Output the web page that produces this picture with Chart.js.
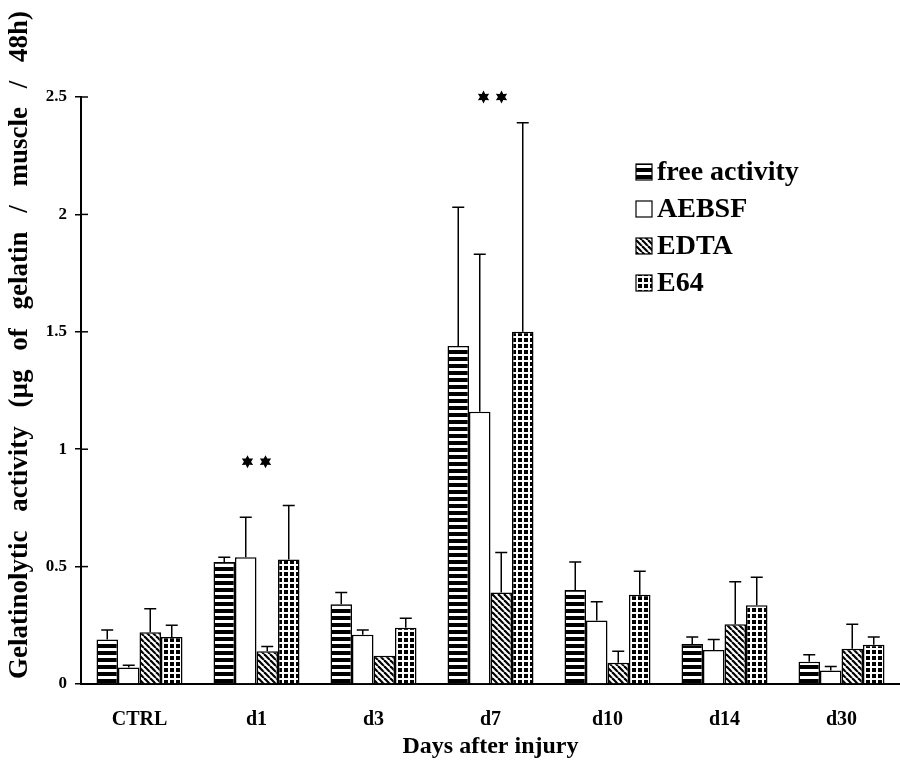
<!DOCTYPE html>
<html>
<head>
<meta charset="utf-8">
<script src="https://cdn.jsdelivr.net/npm/chart.js@4/dist/chart.umd.min.js"></script>
<style>
  html, body { margin: 0; padding: 0; background: #fff; }
  #wrap { width: 900px; height: 765px; }
</style>
</head>
<body>
<div id="wrap"><canvas id="gelChart" width="900" height="765"></canvas></div>
<script>
// values (mean and SD per day)
const days = ['CTRL', 'd1', 'd3', 'd7', 'd10', 'd14', 'd30'];
const freeActivity = [0.19, 0.52, 0.34, 1.44, 0.40, 0.17, 0.095];
const aebsf        = [0.07, 0.54, 0.21, 1.16, 0.27, 0.145, 0.057];
const edta         = [0.22, 0.14, 0.12, 0.39, 0.09, 0.255, 0.15];
const e64          = [0.20, 0.53, 0.24, 1.50, 0.38, 0.335, 0.167];

const freeSd  = [0.04, 0.02, 0.05, 0.59, 0.12, 0.03, 0.03];
const aebsfSd = [0.01, 0.17, 0.02, 0.67, 0.08, 0.045, 0.017];
const edtaSd  = [0.10, 0.02, 0.00, 0.17, 0.05, 0.18, 0.105];
const e64Sd   = [0.05, 0.23, 0.04, 0.89, 0.10, 0.12, 0.033];

const starDays   = ['d1', 'd7'];
const starValues = [0.947, 2.5];

const serif = '"Liberation Serif", "Times New Roman", serif';

function makePattern(w, h, draw) {
    let c = document.createElement('canvas');
    c.width = w;
    c.height = h;
    let g = c.getContext('2d');
    draw(g, w, h);
    return g.createPattern(c, 'repeat');
}

let hStripes = makePattern(4, 7, function (g, w, h) {
    g.fillStyle = '#fff'; g.fillRect(0, 0, w, h);
    g.fillStyle = '#000'; g.fillRect(0, 0, w, 4);
});
let diagStripes = makePattern(6, 6, function (g, w, h) {
    g.fillStyle = '#fff'; g.fillRect(0, 0, w, h);
    g.strokeStyle = '#000'; g.lineWidth = 2.2;
    for (let k = -6; k <= 6; k += 6) {
        g.beginPath(); g.moveTo(k, 0); g.lineTo(k + 6, 6); g.stroke();
    }
});
let grid = makePattern(6, 6, function (g, w, h) {
    g.fillStyle = '#000'; g.fillRect(0, 0, w, h);
    g.fillStyle = '#fff'; g.fillRect(0, 0, w, 2); g.fillRect(0, 0, 2, h);
});

function star(ctx, cx, cy, r) {
    ctx.beginPath();
    for (let k = 0; k < 12; k++) {
        let a = -Math.PI / 2 + k * Math.PI / 6;
        let rr = k % 2 ? r * 0.55 : r;
        ctx.lineTo(cx + rr * Math.cos(a), cy + rr * Math.sin(a));
    }
    ctx.closePath();
    ctx.fill();
}

// words spread out so the rotated title covers the given length
function spreadText(ctx, text, cx, cy, length) {
    let words = text.split(' ');
    let widths = words.map(w => ctx.measureText(w).width);
    let total = widths.reduce((a, b) => a + b, 0);
    let gap = (length - total) / (words.length - 1);
    let pos = cx - length / 2;
    ctx.textAlign = 'left';
    words.forEach(function (w, i) {
        ctx.fillText(w, pos, cy);
        pos += widths[i] + gap;
    });
}

const extras = {
    id: 'extras',
    afterDatasetsDraw(chart) {
        let ctx = chart.ctx;
        let y = chart.scales.y;
        ctx.save();
        ctx.strokeStyle = '#000';
        ctx.lineWidth = 1.5;
        chart.data.datasets.forEach(function (ds, di) {
            chart.getDatasetMeta(di).data.forEach(function (bar, i) {
                let sd = ds.sd[i];
                if (!sd) return;
                let top = y.getPixelForValue(ds.data[i] + sd);
                ctx.beginPath();
                ctx.moveTo(bar.x, bar.y);
                ctx.lineTo(bar.x, top);
                ctx.moveTo(bar.x - 6, top);
                ctx.lineTo(bar.x + 6, top);
                ctx.stroke();
            });
        });
        ctx.restore();
    },
    afterDraw(chart) {
        let ctx = chart.ctx;
        let x = chart.scales.x;
        let y = chart.scales.y;
        let area = chart.chartArea;
        ctx.save();

        // inner half of the y ticks
        ctx.strokeStyle = '#000';
        ctx.lineWidth = 1.5;
        y.ticks.forEach(function (t) {
            let py = y.getPixelForValue(t.value);
            ctx.beginPath(); ctx.moveTo(area.left, py); ctx.lineTo(area.left + 7, py); ctx.stroke();
        });

        // significance stars
        ctx.fillStyle = '#000';
        starDays.forEach(function (d, i) {
            let px = x.getPixelForValue(days.indexOf(d)) + (d === 'd7' ? 2 : 0);
            let py = y.getPixelForValue(starValues[i]);
            star(ctx, px - 9, py, 6.5);
            star(ctx, px + 9, py, 6.5);
        });

        // legend
        ctx.font = 'bold 28px ' + serif;
        ctx.textAlign = 'left';
        ctx.textBaseline = 'middle';
        let lx = 636;
        let ly = area.top + 75;
        chart.data.datasets.forEach(function (ds, i) {
            let cy = ly + i * 37;
            ctx.fillStyle = ds.backgroundColor;
            ctx.fillRect(lx, cy - 8, 16, 16);
            ctx.strokeStyle = '#000';
            ctx.lineWidth = 1.2;
            ctx.strokeRect(lx, cy - 8, 16, 16);
            ctx.fillStyle = '#000';
            ctx.fillText(ds.label, lx + 21, cy + 1);
        });

        // y axis title
        ctx.translate(20, 345);
        ctx.rotate(-Math.PI / 2);
        ctx.font = 'bold 27px ' + serif;
        spreadText(ctx, 'Gelatinolytic activity (\u00b5g of gelatin / muscle / 48h)', 0, 0, 668);
        ctx.restore();
    }
};

let ctx = document.getElementById('gelChart').getContext('2d');

let data = {
    labels: days,
    datasets: [
        { label: 'free activity', data: freeActivity, sd: freeSd, backgroundColor: hStripes },
        { label: 'AEBSF', data: aebsf, sd: aebsfSd, backgroundColor: '#fff' },
        { label: 'EDTA', data: edta, sd: edtaSd, backgroundColor: diagStripes },
        { label: 'E64', data: e64, sd: e64Sd, backgroundColor: grid }
    ]
};

let gelChart = new Chart(ctx, {
    type: 'bar',
    data: data,
    plugins: [extras],
    options: {
        responsive: false,
        animation: false,
        devicePixelRatio: 1,
        layout: { padding: { top: 97, right: -10, left: 0, bottom: 0 } },
        datasets: {
            bar: { borderColor: '#000', borderWidth: 1.5, barPercentage: 1, categoryPercentage: 0.735 }
        },
        plugins: { legend: { display: false }, tooltip: { enabled: false } },
        scales: {
            x: {
                grid: { display: false },
                border: { display: true, color: '#000', width: 2 },
                ticks: { color: '#000', padding: 16, font: { family: serif, size: 20, weight: 'bold' } },
                title: {
                    display: true, text: 'Days after injury', color: '#000',
                    font: { family: serif, size: 24, weight: 'bold' }, padding: { top: 2, bottom: 4 }
                },
                afterFit: function (scale) { scale.height = 81; }
            },
            y: {
                min: 0,
                max: 2.5,
                grid: { drawOnChartArea: false, drawTicks: true, tickLength: 6, color: '#000', lineWidth: 1.5 },
                border: { display: true, color: '#000', width: 2 },
                ticks: {
                    stepSize: 0.5, color: '#000', padding: 8,
                    font: { family: serif, size: 17, weight: 'bold' },
                    callback: function (v) { return String(v); }
                },
                afterFit: function (scale) { scale.width = 81; }
            }
        }
    }
});
</script>
</body>
</html>
